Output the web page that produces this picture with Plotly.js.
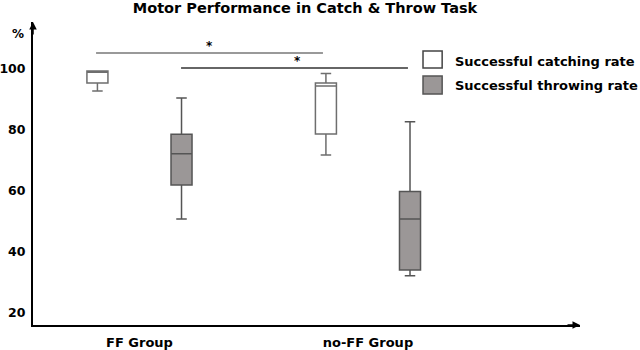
<!DOCTYPE html>
<html>
<head>
<meta charset="utf-8">
<script src="https://cdn.plot.ly/plotly-3.0.1.min.js"></script>
<style>html,body{margin:0;padding:0;background:#fff;}#chart{width:640px;height:350px;}</style>
</head>
<body>
<div id="chart"></div>
<script>
// values (%)
var groups = ['FF Group', 'no-FF Group'];
var seriesNames = ['Successful catching rate', 'Successful throwing rate'];

var catchMin = [92.8, 71.8];
var catchQ1 = [95.4, 78.7];
var catchMed = [98.9, 94.4];
var catchQ3 = [99.3, 95.4];
var catchMax = [99.3, 98.5];

var throwMin = [50.8, 32.2];
var throwQ1 = [62.0, 34.1];
var throwMed = [72.2, 50.8];
var throwQ3 = [78.6, 59.8];
var throwMax = [90.5, 82.7];

var yTicks = [20, 40, 60, 80, 100];
var sigLevels = [105.2, 100.3];

var font = 'DejaVu Sans, Arial, sans-serif';

var data = [{
    type: 'box',
    name: seriesNames[0],
    x: groups,
    lowerfence: catchMin,
    q1: catchQ1,
    median: catchMed,
    q3: catchQ3,
    upperfence: catchMax,
    fillcolor: '#ffffff',
    line: {color: '#6e6e6e', width: 1.5},
    whiskerwidth: 0.5,
    boxpoints: false,
    hoverinfo: 'skip'
}, {
    type: 'box',
    name: seriesNames[1],
    x: groups,
    lowerfence: throwMin,
    q1: throwQ1,
    median: throwMed,
    q3: throwQ3,
    upperfence: throwMax,
    fillcolor: '#9b9797',
    line: {color: '#555555', width: 1.5},
    whiskerwidth: 0.5,
    boxpoints: false,
    hoverinfo: 'skip'
}];

var bold = function (size) {
    return {family: font, size: size, weight: 'bold', color: '#000'};
};

var layout = {
    width: 640,
    height: 350,
    margin: {l: 33, r: 60, t: 22, b: 25},
    paper_bgcolor: '#ffffff',
    plot_bgcolor: '#ffffff',
    showlegend: false,
    boxmode: 'group',
    boxgap: 0.264,
    boxgroupgap: 0.75,
    font: {family: font, color: '#000'},
    title: {
        text: 'Motor Performance in Catch &amp; Throw Task',
        font: bold(14.5),
        x: 305 / 640, xanchor: 'center', xref: 'container',
        y: 1 - 8 / 350, yanchor: 'middle', yref: 'container'
    },
    xaxis: {
        type: 'category',
        range: [-0.466, 1.928],
        showline: true, linecolor: '#000', linewidth: 2,
        showgrid: false, zeroline: false, ticks: '',
        tickfont: bold(13),
        ticklabelstandoff: 4
    },
    yaxis: {
        range: [16.07, 115.4],
        tickvals: yTicks,
        showline: true, linecolor: '#000', linewidth: 2,
        showgrid: false, zeroline: false, ticks: '',
        tickfont: bold(12.5),
        ticklabelstandoff: 3
    },
    shapes: [
        {type: 'line', xref: 'x', yref: 'y', x0: -0.19, x1: 0.803, y0: sigLevels[0], y1: sigLevels[0],
         line: {color: '#777', width: 1.5}},
        {type: 'line', xref: 'x', yref: 'y', x0: 0.182, x1: 1.175, y0: sigLevels[1], y1: sigLevels[1],
         line: {color: '#333', width: 1.5}},
        // legend swatches
        {type: 'rect', xref: 'paper', yref: 'paper', x0: 0.713, x1: 0.748, y0: 0.848, y1: 0.904,
         fillcolor: '#ffffff', line: {color: '#444', width: 1.5}},
        {type: 'rect', xref: 'paper', yref: 'paper', x0: 0.713, x1: 0.748, y0: 0.762, y1: 0.822,
         fillcolor: '#9b9797', line: {color: '#555', width: 1.5}}
    ],
    annotations: [
        {xref: 'x', yref: 'y', x: 0.306, y: sigLevels[0] + 2.2, text: '*', showarrow: false, font: bold(12)},
        {xref: 'x', yref: 'y', x: 0.69, y: sigLevels[1] + 2.2, text: '*', showarrow: false, font: bold(12)},
        {xref: 'paper', yref: 'paper', x: 0.768, y: 0.868, xanchor: 'left', yanchor: 'middle',
         text: seriesNames[0], showarrow: false, font: bold(13)},
        {xref: 'paper', yref: 'paper', x: 0.768, y: 0.789, xanchor: 'left', yanchor: 'middle',
         text: seriesNames[1], showarrow: false, font: bold(13)},
        {xref: 'paper', yref: 'paper', x: -0.042, y: 0.99, text: '%', showarrow: false, font: bold(12)},
        // axis arrow heads
        {xref: 'paper', yref: 'paper', x: 0, y: 1, ax: 0, ay: 14, text: '', showarrow: true,
         arrowhead: 2, arrowsize: 1, arrowwidth: 1.5, arrowcolor: '#000'},
        {xref: 'paper', yref: 'paper', x: 1, y: 0, ax: -14, ay: 0, text: '', showarrow: true,
         arrowhead: 2, arrowsize: 1, arrowwidth: 1.5, arrowcolor: '#000'}
    ]
};

Plotly.newPlot('chart', data, layout, {staticPlot: true});
</script>
</body>
</html>
